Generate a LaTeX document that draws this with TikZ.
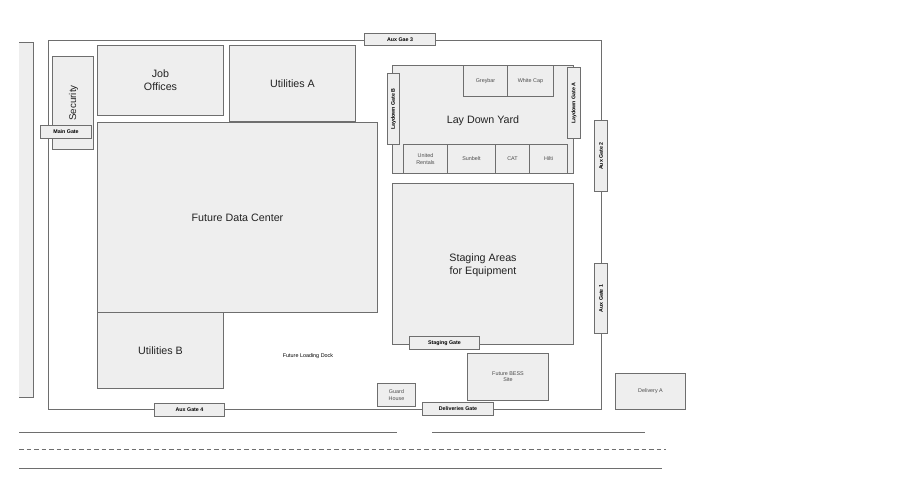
\documentclass[tikz,border=0pt]{standalone}
\usepackage{fontspec}
\setmainfont{Liberation Sans}
\definecolor{edge}{HTML}{6E6E6E}
\definecolor{panel}{HTML}{EEEEEE}
\definecolor{ink}{HTML}{222222}
\tikzset{
  x=1pt,y=-1pt,
  plot/.style={draw=edge,line width=1.1pt,fill=panel},
  boundary/.style={draw=edge,line width=1.1pt},
  road/.style={draw=edge,line width=1pt},
  label/.style={text=ink,align=center,inner sep=0pt},
  big/.style={label,font=\fontsize{10.7}{13}\selectfont},
  small/.style={label,text=black!70,font=\fontsize{5.4}{6.2}\selectfont},
  gatelabel/.style={label,font=\fontsize{5.3}{6.2}\selectfont\bfseries,text=black},
}
\newcommand{\bx}[6]{% name, x1,y1,x2,y2, style
  \path[plot] (#2,#3) rectangle (#4,#5);
  \coordinate (#1) at ({(#2+#4)/2},{(#3+#5)/2});}
\begin{document}
\begin{tikzpicture}
\useasboundingbox (0,0) rectangle (922,500);
% left strip
\coordinate (sa) at (19,42.5); \coordinate (sb) at (33.5,42.5);
\coordinate (sc) at (33.5,397.5); \coordinate (sd) at (19,397.5);
\fill[panel] (sa) -- (sb) -- (sc) -- (sd) -- cycle;
\draw[boundary] (sa) -- (sb) -- (sc) -- (sd);
% site
\path[boundary] (48.5,40.5) rectangle (601.5,409.5);
% plots
\bx{sec}{52.5}{56.5}{93.5}{149.5}{}
\node[big,font=\fontsize{9.8}{12}\selectfont,rotate=90] at (73.5,103) {Security};
\bx{job}{97.5}{45.5}{223.5}{115.5}{}
\node[big] at (job) {Job\\Offices};
\bx{uta}{229.5}{45.5}{355.5}{121.5}{}
\node[big] at (uta) {Utilities A};
\bx{fdc}{97.5}{122.5}{377.5}{312.5}{}
\node[big] at (fdc) {Future Data Center};
\bx{utb}{97.5}{312.5}{223.5}{388.5}{}
\node[big] at (utb) {Utilities B};
\bx{ldy}{392.5}{65.5}{573.5}{173.5}{}
\node[big] at (483,120.5) {Lay Down Yard};
\bx{gb}{463.5}{65.5}{507.5}{96.5}{}
\node[small] at (gb) {Greybar};
\bx{wc}{507.5}{65.5}{553.5}{96.5}{}
\node[small] at (wc) {White Cap};
\bx{ur}{403.5}{144.5}{447.5}{173.5}{}
\node[small] at (ur) {United\\Rentals};
\bx{sb2}{447.5}{144.5}{495.5}{173.5}{}
\node[small] at (sb2) {Sunbelt};
\bx{cat}{495.5}{144.5}{529.5}{173.5}{}
\node[small] at (cat) {CAT};
\bx{hil}{529.5}{144.5}{567.5}{173.5}{}
\node[small] at (hil) {Hilti};
\bx{sta}{392.5}{183.5}{573.5}{344.5}{}
\node[big] at (483,265) {Staging Areas\\for Equipment};
\bx{bes}{467.5}{353.5}{548.5}{400.5}{}
\node[small] at (bes) {Future BESS\\Site};
\bx{gua}{377.5}{383.5}{415.5}{406.5}{}
\node[small] at (gua) {Guard\\House};
\bx{dla}{615.5}{373.5}{685.5}{409.5}{}
\node[small] at (dla) {Delivery A};
% gates
\bx{mg}{40.5}{125.5}{91.5}{138.5}{}
\node[gatelabel] at (mg) {Main Gate};
\bx{lgb}{387.5}{73.5}{399.5}{144.5}{}
\node[gatelabel,rotate=90] at (lgb) {Laydown Gate B};
\bx{lga}{567.5}{67.5}{580.5}{138.5}{}
\node[gatelabel,rotate=90] at (lga) {Laydown Gate A};
\bx{ag3}{364.5}{33.5}{435.5}{45.5}{}
\node[gatelabel] at (ag3) {Aux Gae 3};
\bx{ag2}{594.5}{120.5}{607.5}{191.5}{}
\node[gatelabel,rotate=90] at (ag2) {Aux Gate 2};
\bx{ag1}{594.5}{263.5}{607.5}{333.5}{}
\node[gatelabel,rotate=90] at (ag1) {Aux Gate 1};
\bx{ag4}{154.5}{403.5}{224.5}{416.5}{}
\node[gatelabel] at (ag4) {Aux Gate 4};
\bx{stg}{409.5}{336.5}{479.5}{349.5}{}
\node[gatelabel] at (stg) {Staging Gate};
\bx{dlg}{422.5}{402.5}{493.5}{415.5}{}
\node[gatelabel] at (dlg) {Deliveries Gate};
\node[small,text=black] at (308,356.5) {Future Loading Dock};
% roads
\coordinate (r1a) at (19,432.5); \coordinate (r1b) at (397,432.5);
\coordinate (r2a) at (432,432.5); \coordinate (r2b) at (645,432.5);
\coordinate (r3a) at (19,449.5); \coordinate (r3b) at (666,449.5);
\coordinate (r4a) at (19,468.5); \coordinate (r4b) at (662,468.5);
\draw[road] (r1a) -- (r1b);
\draw[road] (r2a) -- (r2b);
\draw[road,dash pattern=on 4.5pt off 3pt] (r3a) -- (r3b);
\draw[road] (r4a) -- (r4b);
\end{tikzpicture}
\end{document}
